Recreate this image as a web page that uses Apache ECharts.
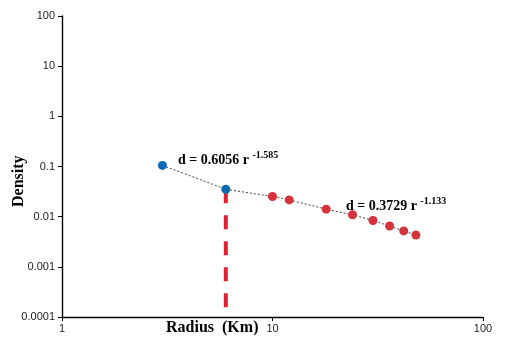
<!DOCTYPE html>
<html>
<head>
<meta charset="utf-8">
<script src="https://cdn.jsdelivr.net/npm/echarts@6/dist/echarts.min.js"></script>
<style>
  html, body { margin: 0; padding: 0; background: #fff; }
  #main { width: 505px; height: 345px; }
</style>
</head>
<body>
<div id="main"></div>
<script>
var chartDom = document.getElementById('main');
var myChart = echarts.init(chartDom);
var option;

// blue points (first fit) and red points (second fit)
let blueRadius = [3, 6];
let blueDensity = [0.105, 0.0352];
let redRadius = [10, 12, 18, 24, 30, 36, 42, 48];
let redDensity = [0.0253, 0.0216, 0.0141, 0.0109, 0.0084, 0.0065, 0.0052, 0.0043];
let cutRadius = 6;
let yTickLabels = ['0.0001', '0.001', '0.01', '0.1', '1', '10', '100'];
let xTickLabels = ['1', '10', '100'];

let blue = blueRadius.map((r, i) => [r, blueDensity[i]]);
let red = redRadius.map((r, i) => [r, redDensity[i]]);
let trend = blue.concat(red);
let cutLine = [[cutRadius, blueDensity[1]], [cutRadius, 0.0001]];

let serif = '"Liberation Serif", "Times New Roman", serif';
let sans = '"Liberation Sans", Arial, sans-serif';

let eqRich = {
  b: { font: 'bold 14px ' + serif, fill: '#000', verticalAlign: 'bottom' },
  s: { font: 'bold 10px ' + serif, fill: '#000', verticalAlign: 'top', padding: [0, 0, 7, 0] }
};

option = {
  animation: false,
  grid: { left: 62, right: 22, top: 16, bottom: 28 },
  xAxis: {
    type: 'log',
    logBase: 10,
    min: 1,
    max: 100,
    axisLine: { lineStyle: { color: '#000', width: 1.4 } },
    axisTick: { show: true, length: 4, lineStyle: { color: '#000' } },
    minorTick: { show: false },
    splitLine: { show: false },
    axisLabel: {
      color: '#222',
      fontFamily: sans,
      fontSize: 11,
      margin: 6,
      formatter: function (v) {
        return xTickLabels[Math.round(Math.log10(v))];
      }
    }
  },
  yAxis: {
    type: 'log',
    logBase: 10,
    min: 0.0001,
    max: 100,
    axisLine: { show: true, lineStyle: { color: '#000', width: 1.4 } },
    axisTick: { show: true, length: 4, lineStyle: { color: '#000' } },
    splitLine: { show: false },
    axisLabel: {
      color: '#222',
      fontFamily: sans,
      fontSize: 11,
      margin: 7,
      formatter: function (v) {
        return yTickLabels[Math.round(Math.log10(v)) + 4];
      }
    }
  },
  graphic: [
    {
      type: 'text', rotation: Math.PI / 2,
      x: 11, y: 207,
      style: { text: 'Density', font: 'bold 16px ' + serif, fill: '#000' }
    },
    {
      type: 'text', left: 166, top: 320,
      style: { text: 'Radius  (Km)', font: 'bold 16px ' + serif, fill: '#000' }
    },
    {
      type: 'text', left: 178, top: 150,
      style: { text: '{b|d = 0.6056 r }{s|-1.585}', rich: eqRich }
    },
    {
      type: 'text', left: 346, top: 196,
      style: { text: '{b|d = 0.3729 r }{s|-1.133}', rich: eqRich }
    }
  ],
  series: [
    {
      type: 'line',
      data: cutLine,
      symbol: 'none',
      lineStyle: { color: '#e0202e', width: 4, type: [14, 12] },
      z: 1
    },
    {
      type: 'line',
      data: trend,
      symbol: 'none',
      lineStyle: { color: '#444', width: 1, type: [2, 2] },
      z: 2
    },
    {
      type: 'scatter',
      data: red,
      symbolSize: 9,
      itemStyle: { color: '#d6323b', opacity: 1 },
      z: 3
    },
    {
      type: 'scatter',
      data: blue,
      symbolSize: 9,
      itemStyle: { color: '#0b6ab2', opacity: 1 },
      z: 4
    }
  ]
};

option && myChart.setOption(option);
</script>
</body>
</html>
